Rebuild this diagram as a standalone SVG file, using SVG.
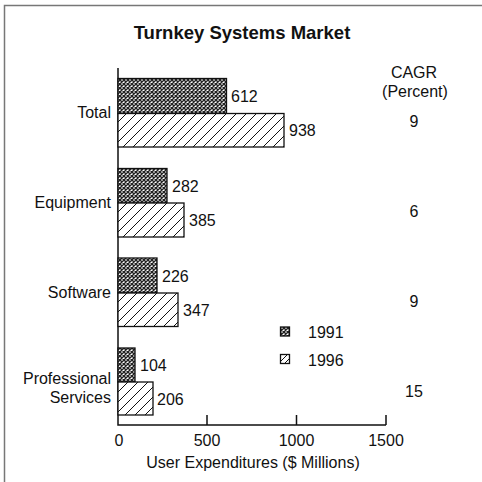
<svg xmlns="http://www.w3.org/2000/svg" width="482" height="482" viewBox="0 0 482 482">
<style>
text{font-family:"Liberation Sans",Arial,sans-serif;font-size:16px;fill:#111}
.title{font-size:18.5px;font-weight:bold}
.r{text-anchor:end}
.m{text-anchor:middle}
.bar{stroke:#111;stroke-width:1.3}
.ax{stroke:#111;stroke-width:1.5;fill:none}
</style>
<defs>
<pattern id="xh" width="4" height="4" patternUnits="userSpaceOnUse">
<rect width="4" height="4" fill="#fff"/>
<path d="M0,0L4,4M4,0L0,4" stroke="#222" stroke-width="1.4"/>
</pattern>
<pattern id="dh" width="10" height="10" patternUnits="userSpaceOnUse">
<rect width="10" height="10" fill="#fff"/>
<path d="M-1,11L11,-1M-6,6L6,-6M4,16L16,4" stroke="#111" stroke-width="1"/>
</pattern>
<pattern id="dhs" width="6" height="6" patternUnits="userSpaceOnUse">
<rect width="6" height="6" fill="#fff"/>
<path d="M-1,7L7,-1M-4,4L4,-4M2,10L10,2" stroke="#111" stroke-width="1"/>
</pattern>
</defs>
<rect width="482" height="482" fill="#fff"/>
<path d="M4.5,482V5.5H482" stroke="#777" stroke-width="1.5" fill="none"/>
<text class="title m" x="242" y="39">Turnkey Systems Market</text>
<g id="axes">
<path class="ax" d="M118,68V425H386"/>
<path class="ax" d="M207,415V425M296.5,415V425M386,415V425"/>
<text class="m" x="119" y="446">0</text>
<text class="m" x="207" y="446">500</text>
<text class="m" x="296.5" y="446">1000</text>
<text class="m" x="386" y="446">1500</text>
<text class="m" x="253" y="468">User Expenditures ($ Millions)</text>
</g>
<g id="cagr-header">
<text class="m" x="414" y="78">CAGR</text>
<text class="m" x="415" y="97">(Percent)</text>
</g>
<g id="total">
<text class="r" x="111" y="118">Total</text>
<rect class="bar" x="118" y="78.5" width="108.5" height="35" fill="url(#xh)"/>
<rect class="bar" x="118" y="113.5" width="166" height="33.5" fill="url(#dh)"/>
<text x="231" y="102">612</text>
<text x="289" y="136">938</text>
<text class="m" x="414" y="127">9</text>
</g>
<g id="equipment">
<text class="r" x="111" y="208">Equipment</text>
<rect class="bar" x="118" y="168.5" width="49" height="34.5" fill="url(#xh)"/>
<rect class="bar" x="118" y="203" width="66" height="34" fill="url(#dh)"/>
<text x="172" y="192">282</text>
<text x="189" y="226">385</text>
<text class="m" x="414" y="217">6</text>
</g>
<g id="software">
<text class="r" x="111" y="298">Software</text>
<rect class="bar" x="118" y="258" width="39" height="35" fill="url(#xh)"/>
<rect class="bar" x="118" y="293" width="60" height="33.5" fill="url(#dh)"/>
<text x="162" y="282">226</text>
<text x="183" y="316">347</text>
<text class="m" x="414" y="307">9</text>
</g>
<g id="professional-services">
<text class="r" x="111" y="384">Professional</text>
<text class="r" x="111" y="403">Services</text>
<rect class="bar" x="118" y="348" width="17" height="34" fill="url(#xh)"/>
<rect class="bar" x="118" y="382" width="35" height="33" fill="url(#dh)"/>
<text x="140" y="371">104</text>
<text x="157" y="405">206</text>
<text class="m" x="414" y="397">15</text>
</g>
<g id="legend">
<rect class="bar" x="280.5" y="327" width="9" height="9" fill="url(#xh)"/>
<rect class="bar" x="280.5" y="354.5" width="9" height="9" fill="url(#dhs)"/>
<text x="308" y="338">1991</text>
<text x="308" y="366">1996</text>
</g>
</svg>
